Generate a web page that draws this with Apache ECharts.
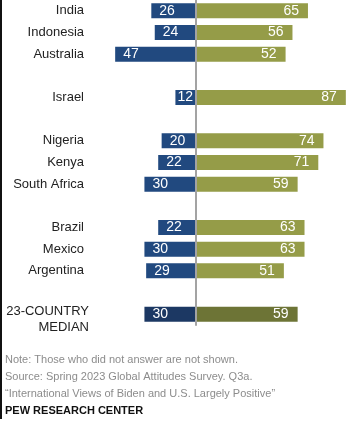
<!DOCTYPE html>
<html>
<head>
<meta charset="utf-8">
<script src="https://cdn.jsdelivr.net/npm/echarts@6/dist/echarts.min.js"></script>
<style>
html,body{margin:0;padding:0;background:#fff;}
#c{width:359px;height:424px;}
</style>
</head>
<body>
<div id="c"></div>
<script>
// Data (blank rows are spacer slots between regions)
var categories = ['India', 'Indonesia', 'Australia', ' ', 'Israel', '  ', 'Nigeria', 'Kenya', 'South Africa', '   ', 'Brazil', 'Mexico', 'Argentina', '    ', '23-COUNTRY\nMEDIAN'];
var unfavorable = [26, 24, 47, null, 12, null, 20, 22, 30, null, 22, 30, 29, null, 30];
var favorable = [65, 56, 52, null, 87, null, 74, 71, 59, null, 63, 63, 51, null, 59];
var noteLines = [
  'Note: Those who did not answer are not shown.',
  'Source: Spring 2023 Global Attitudes Survey. Q3a.',
  '\u201cInternational Views of Biden and U.S. Largely Positive\u201d'
];
var sourceLabel = 'PEW RESEARCH CENTER';

var BLUE = '#21497f', BLUE_DARK = '#1c3863';
var OLIVE = '#959c48', OLIVE_DARK = '#6d7436';
var FONT = '"Liberation Sans", Arial, sans-serif';
var medianIdx = categories.length - 1;

var blueData = unfavorable.map(function (v, i) {
  if (v == null) return null;
  var item = { value: -v, itemStyle: { color: i === medianIdx ? BLUE_DARK : BLUE } };
  if (v < 15) item.label = { distance: 2 };
  return item;
});
var oliveData = favorable.map(function (v, i) {
  if (v == null) return null;
  return { value: v, itemStyle: { color: i === medianIdx ? OLIVE_DARK : OLIVE } };
});

var chart = echarts.init(document.getElementById('c'), null, { renderer: 'canvas' });

var graphics = [
  { type: 'rect', left: 0, top: 0, shape: { x: 0, y: 0, width: 2, height: 419 }, style: { fill: '#111' }, z: 100 }
];
noteLines.forEach(function (t, i) {
  graphics.push({
    type: 'text', left: 5, top: 354 + i * 17,
    style: { text: t, font: '11px ' + FONT, fill: '#8c8c8c' }
  });
});
graphics.push({
  type: 'text', left: 5, top: 405,
  style: { text: sourceLabel, font: 'bold 11px ' + FONT, fill: '#111' }
});

chart.setOption({
  animation: false,
  grid: { left: 110, width: 241, top: 0, height: 325, containLabel: false },
  xAxis: {
    type: 'value', min: -50, max: 90,
    axisLine: { show: false }, axisTick: { show: false },
    axisLabel: { show: false }, splitLine: { show: false }
  },
  yAxis: [{
    type: 'category', inverse: true, data: categories,
    axisLine: { show: false, onZero: false }, axisTick: { show: false },
    axisLabel: {
      margin: 21,
      color: '#222',
      fontFamily: FONT,
      fontSize: 13,
      formatter: function (v, i) {
        if (i === medianIdx) {
          var parts = v.split('\n');
          return '{s|}\n{m|' + parts[0] + '}\n{m|' + parts[1] + '}';
        }
        return v.trim() ? '{n|' + v + '}' : '';
      },
      rich: {
        n: { fontSize: 13, color: '#222', fontFamily: FONT, padding: [0, 5, 0, 0] },
        m: { fontSize: 13, color: '#222', fontFamily: FONT, lineHeight: 16 },
        s: { lineHeight: 10, fontSize: 8 }
      }
    }
  }, {
    type: 'category', inverse: true, data: categories, z: 10,
    axisLine: { show: true, onZero: true, lineStyle: { color: '#a3a3a3', width: 2 } },
    axisTick: { show: false }, axisLabel: { show: false }
  }],
  series: [{
    type: 'bar', data: blueData, barWidth: 15, barGap: '-100%',
    label: {
      show: true, position: 'insideLeft', distance: 8,
      color: '#fff', fontFamily: FONT, fontSize: 14,
      formatter: function (p) { return Math.abs(p.value); }
    }
  }, {
    type: 'bar', data: oliveData, barWidth: 15, barGap: '-100%',
    label: {
      show: true, position: 'insideRight', distance: 9,
      color: '#fff', fontFamily: FONT, fontSize: 14
    }
  }],
  graphic: graphics
});
</script>
</body>
</html>
